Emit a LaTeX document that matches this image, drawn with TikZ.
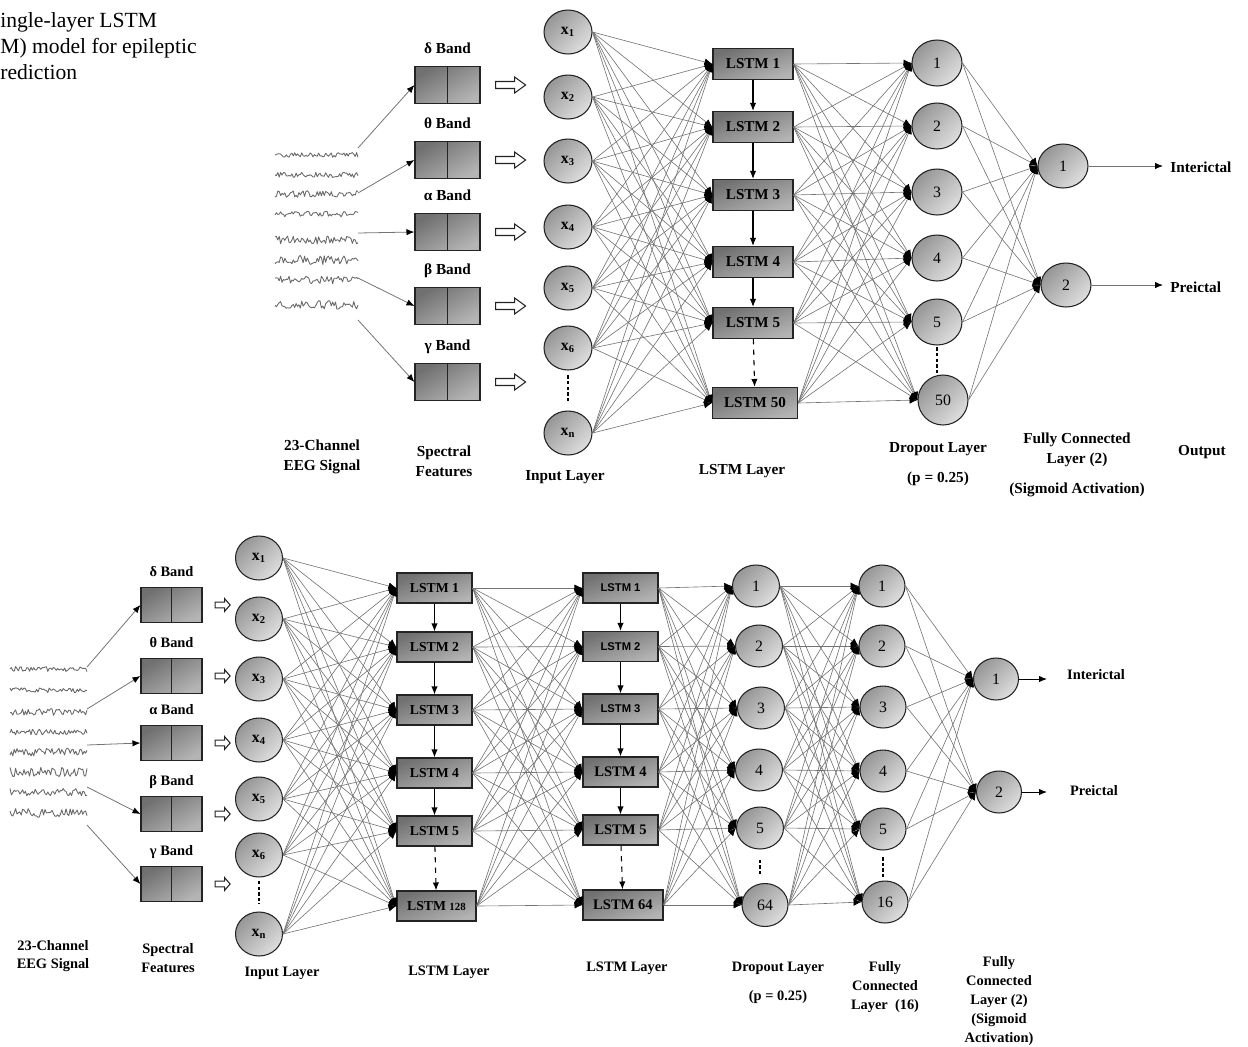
\documentclass[tikz,border=0pt]{standalone}
\usepackage{fontspec}
\setmainfont{Liberation Serif}
\newfontfamily\lstmsans{Liberation Sans}
\usepackage{tikz}
\usetikzlibrary{shapes.geometric, arrows.meta, positioning, calc}
\definecolor{mydark}{RGB}{35,35,35}
\definecolor{mywire}{RGB}{115,115,115}
\definecolor{mycellhi}{RGB}{222,222,222}
\definecolor{mycelllo}{RGB}{150,150,150}
\definecolor{myboxhi}{RGB}{180,180,180}
\definecolor{myboxlo}{RGB}{112,112,112}
\definecolor{myeeg}{RGB}{105,105,105}
\tikzset{
  neuron/.style={ellipse, draw=mydark, line width=0.6pt,
    top color=mycelllo, bottom color=mycellhi, shading angle=45,
    minimum width=0.96cm, minimum height=0.88cm, inner sep=0pt,
    font=\fontsize{9}{10}\selectfont},
  inneuron/.style={neuron, font=\bfseries\fontsize{9}{10}\selectfont},
  lstmbox/.style={rectangle, draw=mydark, line width=0.7pt,
    top color=myboxlo, bottom color=myboxhi, shading angle=20,
    minimum width=1.6cm, minimum height=0.62cm, inner sep=0pt,
    font=\bfseries\fontsize{8.6}{10}\selectfont},
  bandbox/.style={rectangle, draw=mydark, line width=0.7pt,
    top color=myboxlo, bottom color=myboxhi, shading angle=30,
    minimum width=1.3cm, minimum height=0.74cm, inner sep=0pt,
    path picture={\draw[mydark, line width=0.7pt]
      (path picture bounding box.north) -- (path picture bounding box.south);}},
  lbl/.style={font=\bfseries\fontsize{8.7}{11.3}\selectfont, align=center, inner sep=0pt},
  smalllbl/.style={font=\bfseries\fontsize{8.2}{10.7}\selectfont, align=center, inner sep=0pt},
  link/.style={draw=mywire, line width=0.35pt, -{Latex[color=black, length=4.5pt, width=4pt]}},
  chain/.style={draw=black, line width=0.6pt, -{Latex[length=4.5pt, width=3.6pt]}},
  feed/.style={draw=mywire, line width=0.45pt, -{Latex[color=black, length=4.5pt, width=3.6pt]}},
  outshort/.style={draw=black, line width=0.5pt, -{Latex[length=4.5pt, width=3.6pt]}},
  dotline/.style={draw=black, line width=0.6pt, dash pattern=on 2pt off 1.2pt},
  eeg/.style={draw=myeeg, line width=0.5pt, line join=round},
  hollow/.pic={\draw[draw=mydark, line width=0.6pt, fill=white]
    (-15,-3.5) -- (4,-3.5) -- (4,-8) -- (15,0) -- (4,8) -- (4,3.5) -- (-15,3.5) -- cycle;}
}

\begin{document}
\begin{tikzpicture}[x=0.02cm, y=-0.02cm]
  \useasboundingbox (0,0) rectangle (1248,1046);
  \pgfmathsetseed{11}

  % Caption remnant
  \node[anchor=north west, align=left, inner sep=0pt, font=\fontsize{12.3}{14.7}\selectfont]
    (caption) at (0,12) {ingle-layer LSTM\\M) model for epileptic\\rediction};

  %%%%%%%%%%%%%%%% Single-layer model %%%%%%%%%%%%%%%%
  % EEG traces
  \foreach \y/\a in {155/2.6, 175/2.6, 194/3.4, 214/2.8, 240/4.0, 260/4.6, 280/3.8, 305/4.4}
    \draw[eeg] plot[domain=275:358, samples=60, variable=\t] (\t, {\y+\a*rand});
  \coordinate (teeg1) at (358,148);
  \coordinate (teeg2) at (358,193);
  \coordinate (teeg3) at (358,233);
  \coordinate (teeg4) at (358,278);
  \coordinate (teeg5) at (358,320);

  % Spectral bands
  \foreach \y/\b [count=\i] in {85/δ, 160/θ, 232/α, 306/β, 382/γ} {
    \node[bandbox] (tband\i) at (447.5,\y) {};
    \node[lbl, above=0.24cm of tband\i, text depth=0pt] (tbandlbl\i) {\b\ Band};
    \pic at ($(tband\i.east)+(30,0)$) {hollow};
    \draw[feed] (teeg\i) -- (tband\i.west);
  }

  % Input layer
  \foreach \y/\s [count=\i] in {32/1, 97/2, 161/3, 227/4, 288/5, 348/6, 433/n}
    \node[inneuron] (tin\i) at (568,\y) {x\textsubscript{\s}};
  \draw[dotline] ($(tin6.south)!0.12!(tin7.north)$) -- ($(tin6.south)!0.78!(tin7.north)$);

  % LSTM layer
  \foreach \y [count=\i] in {64, 127, 195, 262, 323}
    \node[lstmbox] (tlstm\i) at (753,\y) {LSTM \i};
  \node[lstmbox, minimum width=1.7cm] (tlstm6) at (755,403) {LSTM 50};
  \foreach \i/\j in {1/2, 2/3, 3/4, 4/5}
    \draw[chain] (tlstm\i) -- (tlstm\j);
  \draw[chain, dashed] (tlstm5) -- (tlstm6);

  % Dropout layer
  \foreach \y [count=\i] in {63, 126, 192, 258, 322}
    \node[neuron, minimum width=1.0cm, minimum height=0.92cm] (tdrop\i) at (937,\y) {\i};
  \node[neuron, minimum width=1.0cm, minimum height=1.0cm] (tdrop6) at (943,400) {50};
  \draw[dotline] ($(tdrop5.south)!0.06!(tdrop5.south |- tdrop6.north)$)
    -- ($(tdrop5.south)!0.94!(tdrop5.south |- tdrop6.north)$);

  % Fully connected + output
  \node[neuron, minimum width=1.0cm] (tfc1) at (1063,166) {1};
  \node[neuron, minimum width=1.0cm] (tfc2) at (1066,285) {2};
  \coordinate (tend1) at (1163,166);
  \coordinate (tend2) at (1163,285);
  \node[lbl, anchor=west] (tout1) at (1170,167) {Interictal};
  \node[lbl, anchor=west] (tout2) at (1170,287) {Preictal};
  \draw[feed] (tfc1.east) -- (tend1);
  \draw[feed] (tfc2.east) -- (tend2);

  % Connections
  \foreach \i in {1,...,7}
    \foreach \j in {1,...,6}
      \draw[link] (tin\i.east) -- (tlstm\j.west);
  \foreach \i in {1,...,6}
    \foreach \j in {1,...,6}
      \draw[link] (tlstm\i.east) -- (tdrop\j.west);
  \foreach \i in {1,...,6}
    \foreach \j in {1,2}
      \draw[link] (tdrop\i.east) -- (tfc\j.west);

  % Column titles
  \node[lbl] (teegt) at (322,457) {23-Channel\\EEG Signal};
  \node[lbl] (tspect) at (444,461) {Spectral\\Features};
  \node[lbl] (tint) at (565,477) {Input Layer};
  \node[lbl] (tlstmt) at (742,471) {LSTM Layer};
  \node[lbl] (tdropt) at (938,464) {Dropout Layer\\[6pt](p = 0.25)};
  \node[lbl] (tfct) at (1077,465) {Fully Connected\\Layer (2)\\[5.5pt](Sigmoid Activation)};
  \node[lbl] (toutt) at (1202,452) {Output};

  %%%%%%%%%%%%%%%% Two-layer model %%%%%%%%%%%%%%%%
  % EEG traces
  \foreach \y/\a in {669/2.6, 690/2.6, 712/3.4, 732/2.8, 752/4.0, 772/4.6, 792/3.8, 813/4.4}
    \draw[eeg] plot[domain=10:87, samples=56, variable=\t] (\t, {\y+\a*rand});
  \coordinate (beeg1) at (87,667);
  \coordinate (beeg2) at (87,709);
  \coordinate (beeg3) at (87,745);
  \coordinate (beeg4) at (87,787);
  \coordinate (beeg5) at (87,825);

  % Spectral bands
  \foreach \y/\b [count=\i] in {605/δ, 676/θ, 743/α, 814/β, 884/γ} {
    \node[bandbox, minimum width=1.22cm, minimum height=0.7cm] (bband\i) at (171.5,\y) {};
    \node[smalllbl, above=0.2cm of bband\i, text depth=0pt] (bbandlbl\i) {\b\ Band};
    \pic[xscale=0.5, yscale=0.8] at ($(bband\i.east)+(20,0)$) {hollow};
    \draw[feed] (beeg\i) -- (bband\i.west);
  }

  % Input layer
  \foreach \y/\s [count=\i] in {558/1, 619/2, 679/3, 740/4, 799/5, 855/6, 934/n}
    \node[inneuron, minimum width=0.94cm] (bin\i) at (259,\y) {x\textsubscript{\s}};
  \draw[dotline] ($(bin6.south)!0.1!(bin7.north)$) -- ($(bin6.south)!0.78!(bin7.north)$);

  % First LSTM layer
  \foreach \y [count=\i] in {588, 647, 710, 773, 831}
    \node[lstmbox, minimum width=1.5cm, minimum height=0.6cm,
      font=\bfseries\fontsize{7.8}{9}\selectfont] (blstmA\i) at (434.5,\y) {LSTM \i};
  \node[lstmbox, minimum width=1.58cm, minimum height=0.6cm,
    font=\bfseries\fontsize{7.8}{9}\selectfont] (blstmA6) at (436.5,906) {LSTM {\fontsize{6.2}{7}\selectfont 128}};
  \foreach \i/\j in {1/2, 2/3, 3/4, 4/5}
    \draw[chain] (blstmA\i) -- (blstmA\j);
  \draw[chain, dashed] (blstmA5) -- (blstmA6);

  % Second LSTM layer
  \foreach \y [count=\i] in {588, 646.5, 709}
    \node[lstmbox, minimum width=1.5cm, minimum height=0.6cm,
      font=\lstmsans\bfseries\fontsize{6.4}{8}\selectfont] (blstmB\i) at (620.5,\y) {LSTM \i};
  \foreach \y [count=\i from 4] in {772, 830}
    \node[lstmbox, minimum width=1.5cm, minimum height=0.6cm,
      font=\bfseries\fontsize{8.3}{9}\selectfont] (blstmB\i) at (620.5,\y) {LSTM \i};
  \node[lstmbox, minimum width=1.6cm, minimum height=0.6cm,
    font=\bfseries\fontsize{8.3}{9}\selectfont] (blstmB6) at (623,905) {LSTM 64};
  \foreach \i/\j in {1/2, 2/3, 3/4, 4/5}
    \draw[chain] (blstmB\i) -- (blstmB\j);
  \draw[chain, dashed] (blstmB5) -- (blstmB6);

  % Dropout layer
  \foreach \x/\y [count=\i] in {756/586, 759/646, 761/708, 759/770, 760/828}
    \node[neuron, minimum width=0.94cm, minimum height=0.84cm] (bdrop\i) at (\x,\y) {\i};
  \node[neuron, minimum width=0.92cm, minimum height=0.86cm] (bdrop6) at (765,905) {64};
  \draw[dotline] ($(bdrop5.south)!0.3!(bdrop5.south |- bdrop6.north)$)
    -- ($(bdrop5.south)!0.8!(bdrop5.south |- bdrop6.north)$);

  % Fully connected (16)
  \foreach \x/\y [count=\i] in {882/586, 882/646, 883/707, 883/771, 883/829}
    \node[neuron, minimum width=0.92cm, minimum height=0.84cm] (bfcA\i) at (\x,\y) {\i};
  \node[neuron, minimum width=0.92cm, minimum height=0.84cm] (bfcA6) at (885,902) {16};
  \draw[dotline] ($(bfcA5.south)!0.22!(bfcA5.south |- bfcA6.north)$)
    -- ($(bfcA5.south)!0.9!(bfcA5.south |- bfcA6.north)$);

  % Fully connected (2) + output
  \node[neuron, minimum width=0.9cm, minimum height=0.84cm] (bfcB1) at (996,679) {1};
  \node[neuron, minimum width=0.9cm, minimum height=0.84cm] (bfcB2) at (999,792) {2};
  \coordinate (bend1) at (1047,679);
  \coordinate (bend2) at (1047,792);
  \node[smalllbl] (bout1) at (1096,675) {Interictal};
  \node[smalllbl] (bout2) at (1094,791) {Preictal};
  \draw[outshort] (bfcB1.east) -- (bend1);
  \draw[outshort] (bfcB2.east) -- (bend2);

  % Connections
  \foreach \i in {1,...,7}
    \foreach \j in {1,...,6}
      \draw[link] (bin\i.east) -- (blstmA\j.west);
  \foreach \i in {1,...,6}
    \foreach \j in {1,...,6} {
      \draw[link] (blstmA\i.east) -- (blstmB\j.west);
      \draw[link] (blstmB\i.east) -- (bdrop\j.west);
      \draw[link] (bdrop\i.east) -- (bfcA\j.west);
    }
  \foreach \i in {1,...,6}
    \foreach \j in {1,2}
      \draw[link] (bfcA\i.east) -- (bfcB\j.west);

  % Column titles
  \node[smalllbl] (beegt) at (53,956) {23-Channel\\EEG Signal};
  \node[smalllbl] (bspect) at (168,958) {Spectral\\Features};
  \node[smalllbl] (bint) at (282,973) {Input Layer};
  \node[smalllbl] (blstmAt) at (449,972) {LSTM Layer};
  \node[smalllbl] (blstmBt) at (627,968) {LSTM Layer};
  \node[smalllbl] (bdropt) at (778,983) {Dropout Layer\\[6pt](p = 0.25)};
  \node[smalllbl] (bfcAt) at (885,987) {Fully\\Connected\\Layer~~(16)};
  \node[smalllbl] (bfcBt) at (999,1001) {Fully\\Connected\\Layer (2)\\(Sigmoid\\Activation)};
\end{tikzpicture}
\end{document}
